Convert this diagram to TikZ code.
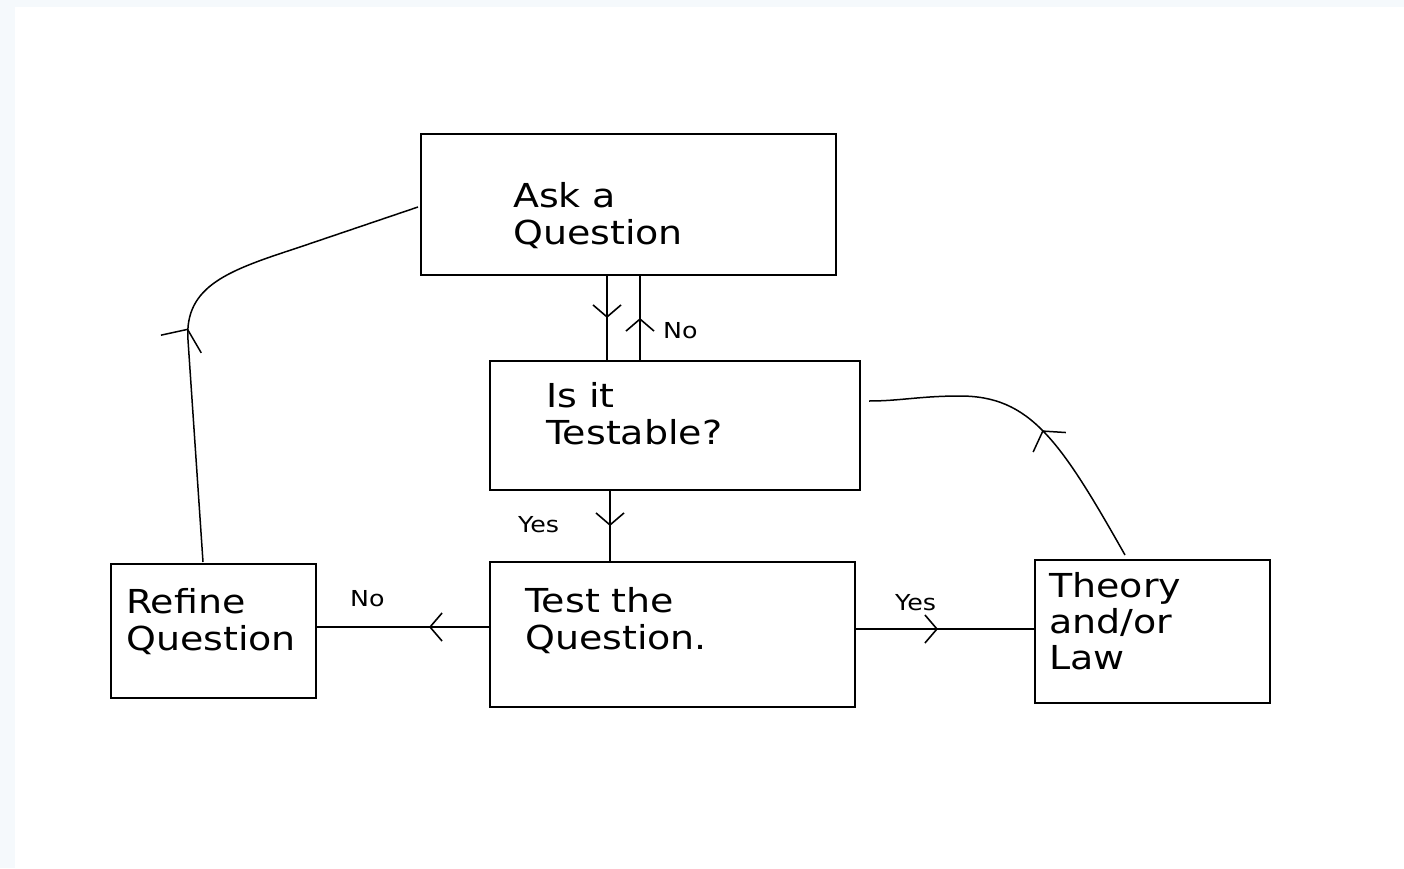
\documentclass[tikz,border=0pt]{standalone}
\usepackage{fontspec}
\setmainfont{DejaVu Sans}[FakeStretch=1.15]
\usetikzlibrary{arrows.meta,decorations.markings}
\definecolor{bgblue}{HTML}{F5F9FC}
\tikzset{
  box/.style={draw, line width=2pt, inner sep=0pt},
  big/.style={anchor=base west, inner sep=0pt, font=\fontsize{33}{37}\selectfont},
  small/.style={anchor=base west, inner sep=0pt, font=\fontsize{22}{26}\selectfont},
  conn/.style={line width=1.8pt},
  curv/.style={line width=1.5pt},
  arr/.style={postaction={decorate}, decoration={markings, mark=at position #1 with {\arrow{Straight Barb[length=12pt,width=28pt,line width=1.6pt]}}}},
  arrbig/.style={postaction={decorate}, decoration={markings, mark=at position #1 with {\pgftransformrotate{-20}\arrow{Straight Barb[length=16pt,width=44pt,line width=1.5pt]}}}},
  arrmid/.style={postaction={decorate}, decoration={markings, mark=at position #1 with {\pgftransformrotate{-14}\arrow{Straight Barb[length=13pt,width=38pt,line width=1.5pt]}}}}
}
\begin{document}
\begin{tikzpicture}[x=1pt,y=-1pt]
\useasboundingbox (0,0) rectangle (1404,868);
\fill[bgblue] (0,0) rectangle (1404,868);
\fill[white] (15,7) rectangle (1404,868);

% boxes
\node[box, minimum width=415pt, minimum height=141pt] (ask) at (628.5,204.5) {};
\node[box, minimum width=370pt, minimum height=129pt] (testable) at (675,425.5) {};
\node[box, minimum width=365pt, minimum height=145pt] (test) at (672.5,634.5) {};
\node[box, minimum width=205pt, minimum height=134pt] (refine) at (213.5,631) {};
\node[box, minimum width=235pt, minimum height=143pt] (theory) at (1152.5,631.5) {};

% texts
\node[big] (ask1) at (513,207) {Ask a};
\node[big] (ask2) at (513,244) {Question};
\node[big] (tst1) at (546,407) {Is it};
\node[big] (tst2) at (546,444) {Testable?};
\node[big] (tq1) at (525,612) {Test the};
\node[big] (tq2) at (525,649) {Question.};
\node[big] (rf1) at (126,613) {Refine};
\node[big] (rf2) at (126,650) {Question};
\node[big] (th1) at (1049,597) {Theory};
\node[big] (th2) at (1049,633) {and/or};
\node[big] (th3) at (1049,669) {Law};

\node[small] (no1) at (663,338) {No};
\node[small] (yes1) at (518,532) {Yes};
\node[small] (no2) at (350,606) {No};
\node[small] (yes2) at (895,610) {Yes};

% helper coordinates
\coordinate (xa) at (607,0);
\coordinate (xb) at (640,0);
\coordinate (xc) at (610,0);
\coordinate (yr) at (0,627);
\coordinate (ys) at (0,629);
\coordinate (rs) at (203,562);
\coordinate (ae) at (418,207);
\coordinate (ts) at (1125,555);
\coordinate (te) at (869,401);

% connectors
\draw[conn, arr=0.5] (ask.south -| xa) -- (testable.north -| xa);
\draw[conn, arr=0.5] (testable.north -| xb) -- (ask.south -| xb);
\draw[conn, arr=0.5] (testable.south -| xc) -- (test.north -| xc);
\draw[conn, arr=60pt] (test.west |- yr) -- (refine.east |- yr);
\draw[conn, arr=82pt] (test.east |- ys) -- (theory.west |- ys);

\draw[curv, arrbig=234pt] (rs) -- (188,340) .. controls (184,285) and (230,270) .. (300,247) -- (ae);
\draw[curv, arrmid=150pt] (ts) .. controls (1060,440) and (1030,396) .. (960,396) .. controls (920,396) and (900,401) .. (te);
\end{tikzpicture}
\end{document}
